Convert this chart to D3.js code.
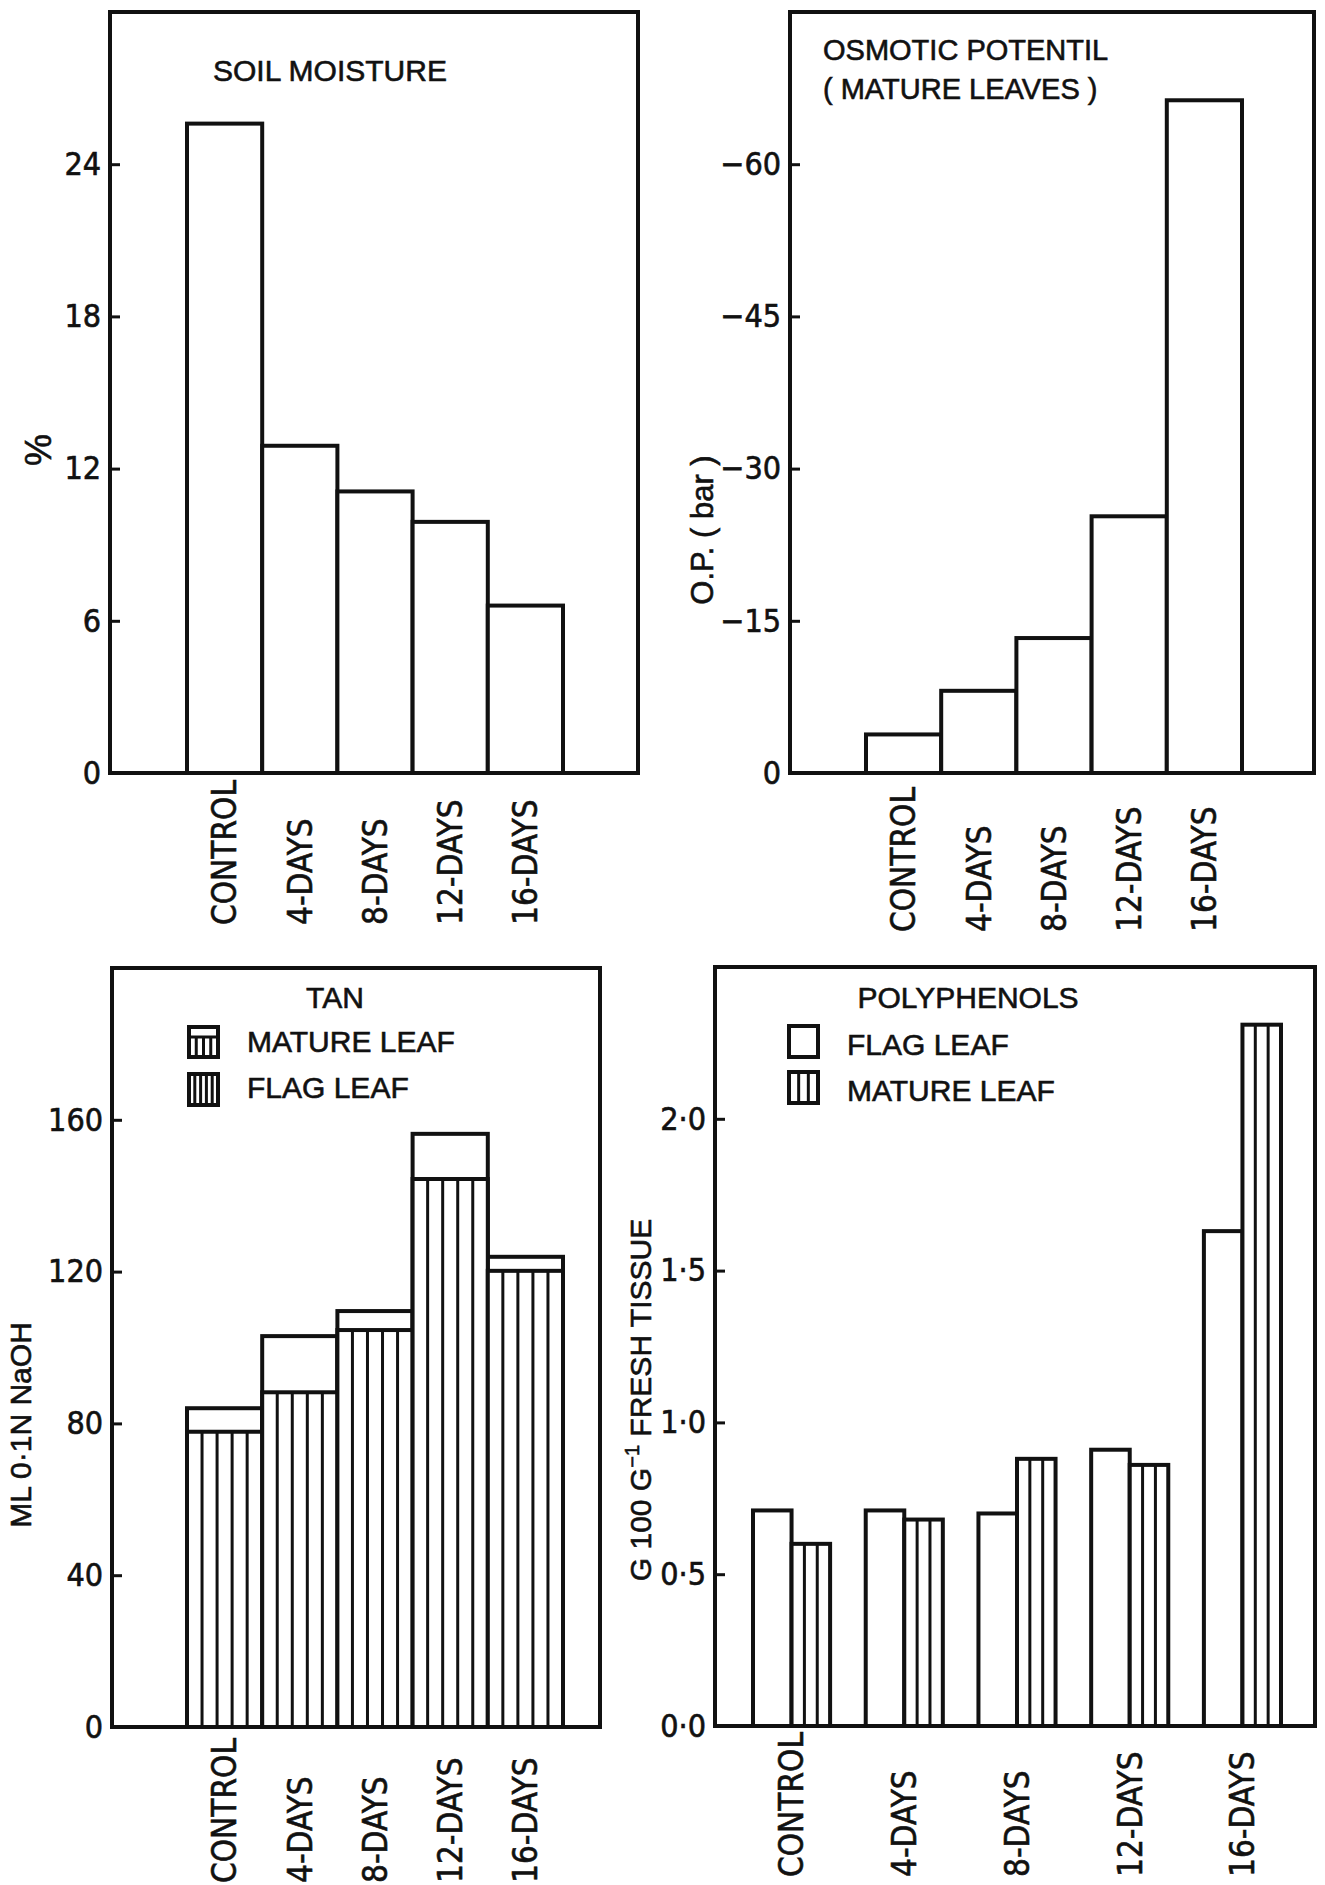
<!DOCTYPE html>
<html><head><meta charset="utf-8">
<script src="https://cdn.jsdelivr.net/npm/d3@7"></script>
<style>
body{margin:0;background:#fff}
svg{display:block;background:#fff}
text{fill:#111;stroke:#111;stroke-width:0.6px}
.narrow{font-family:"Liberation Sans Narrow","DejaVu Sans Condensed","Liberation Sans",sans-serif;font-stretch:condensed}
.reg{font-family:"Liberation Sans","DejaVu Sans",sans-serif}
</style></head><body>
<svg id="c" width="1325" height="1885"></svg>
<script>
// ---------- data ----------
const categories = ["CONTROL", "4-DAYS", "8-DAYS", "12-DAYS", "16-DAYS"];

const soilMoisture = [25.6, 12.9, 11.1, 9.9, 6.6];          // %
const soilTicks = [0, 6, 12, 18, 24];

const osmoticPotential = [-3.8, -8.1, -13.3, -25.3, -66.3]; // bar
const osmoticTicks = [0, -15, -30, -45, -60];

const tanMatureLeaf = [84.0, 103.0, 109.6, 156.3, 123.9];   // ml 0.1N NaOH
const tanFlagLeaf = [77.8, 88.2, 104.6, 144.4, 120.2];
const tanTicks = [0, 40, 80, 120, 160];

const polyFlagLeaf = [0.71, 0.71, 0.70, 0.91, 1.63];         // g/100g fresh tissue
const polyMatureLeaf = [0.60, 0.68, 0.88, 0.86, 2.31];
const polyTicks = [0, 0.5, 1.0, 1.5, 2.0];
const polyTickLabels = ["0·0", "0·5", "1·0", "1·5", "2·0"];

// ---------- drawing ----------
const svg = d3.select("#c");
const INK = "#111";

function frame(f) {
  svg.append("rect").attr("x", f[0]).attr("y", f[1])
    .attr("width", f[2] - f[0]).attr("height", f[3] - f[1])
    .attr("fill", "none").attr("stroke", INK).attr("stroke-width", 4);
}

function yAxis(x0, y, ticks, fmt) {
  const g = svg.append("g").attr("transform", `translate(${x0},0)`)
    .call(d3.axisLeft(y).tickValues(ticks).tickSize(-10).tickPadding(9)
      .tickFormat(fmt));
  g.select(".domain").remove();
  g.selectAll(".tick line").attr("stroke", INK).attr("stroke-width", 3);
  g.selectAll(".tick text").attr("class", "narrow").attr("font-size", 32)
    .attr("fill", INK).attr("font-family", null);
  return g;
}

function xLabels(x, axisY, bottomY) {
  const g = svg.append("g").attr("transform", `translate(0,${axisY})`)
    .call(d3.axisBottom(x).tickSize(0));
  g.select(".domain").remove();
  g.selectAll(".tick text")
    .attr("class", "narrow").attr("font-size", 33).attr("font-family", null)
    .attr("fill", INK)
    .attr("transform", "rotate(-90)")
    .attr("text-anchor", "start")
    .attr("x", -(bottomY - axisY)).attr("y", 0).attr("dy", "0.36em");
  return g;
}

function label(txt, x, y, size, rot, anchor, cls) {
  return svg.append("text").attr("class", cls || "reg")
    .attr("x", x).attr("y", y).attr("font-size", size)
    .attr("text-anchor", anchor || "start")
    .attr("transform", rot ? `rotate(${rot},${x},${y})` : null)
    .text(txt);
}

function stripes(x0, w, yTop, yBot, n) {
  for (let k = 1; k < n; k++) {
    svg.append("line").attr("x1", x0 + w * k / n).attr("x2", x0 + w * k / n)
      .attr("y1", yTop).attr("y2", yBot)
      .attr("stroke", INK).attr("stroke-width", 3);
  }
}

// ===== Panel 1 : soil moisture =====
{
  const f = [110, 12, 638, 773];
  const x = d3.scaleBand().domain(categories).range([187, 563]).padding(0);
  const y = d3.scaleLinear().domain([0, 30]).range([f[3], f[1]]);
  svg.append("g").selectAll("rect").data(categories).join("rect")
    .attr("x", d => x(d)).attr("width", x.bandwidth())
    .attr("y", (d, i) => y(soilMoisture[i]))
    .attr("height", (d, i) => y(0) - y(soilMoisture[i]))
    .attr("fill", "#fff").attr("stroke", INK).attr("stroke-width", 4);
  frame(f);
  yAxis(f[0], y, soilTicks, d3.format("d"));
  xLabels(x, f[3], 925);
  label("SOIL  MOISTURE", 213, 81, 30);
  label("%", 38, 450, 36, -90, "middle").attr("dy", "0.35em");
}

// ===== Panel 2 : osmotic potential =====
{
  const f = [790, 12, 1314, 773];
  const x = d3.scaleBand().domain(categories).range([866, 1242]).padding(0);
  const y = d3.scaleLinear().domain([0, -75]).range([f[3], f[1]]);
  svg.append("g").selectAll("rect").data(categories).join("rect")
    .attr("x", d => x(d)).attr("width", x.bandwidth())
    .attr("y", (d, i) => y(osmoticPotential[i]))
    .attr("height", (d, i) => y(0) - y(osmoticPotential[i]))
    .attr("fill", "#fff").attr("stroke", INK).attr("stroke-width", 4);
  frame(f);
  yAxis(f[0], y, osmoticTicks, d => d === 0 ? "0" : "−" + Math.abs(d));
  xLabels(x, f[3], 932);
  label("OSMOTIC  POTENTIL", 823, 60, 29);
  label("( MATURE LEAVES )", 823, 99, 29);
  label("O.P. ( bar )", 702, 530, 31, -90, "middle").attr("dy", "0.35em");
}

// ===== Panel 3 : TAN =====
{
  const f = [112, 968, 600, 1727];
  const x = d3.scaleBand().domain(categories).range([187, 563]).padding(0);
  const y = d3.scaleLinear().domain([0, 200]).range([f[3], f[1]]);
  const g = svg.append("g");
  categories.forEach((c, i) => {
    g.append("rect").attr("x", x(c)).attr("width", x.bandwidth())
      .attr("y", y(tanMatureLeaf[i])).attr("height", y(0) - y(tanMatureLeaf[i]))
      .attr("fill", "#fff").attr("stroke", INK).attr("stroke-width", 4);
  });
  categories.forEach((c, i) => {
    g.append("rect").attr("x", x(c)).attr("width", x.bandwidth())
      .attr("y", y(tanFlagLeaf[i])).attr("height", y(0) - y(tanFlagLeaf[i]))
      .attr("fill", "#fff").attr("stroke", INK).attr("stroke-width", 4);
    stripes(x(c), x.bandwidth(), y(tanFlagLeaf[i]), y(0), 5);
  });
  frame(f);
  yAxis(f[0], y, tanTicks, d3.format("d"));
  xLabels(x, f[3], 1883);
  label("TAN", 335, 1008, 30, 0, "middle");
  // legend
  svg.append("rect").attr("x", 189).attr("y", 1027).attr("width", 29).attr("height", 30)
    .attr("fill", "#fff").attr("stroke", INK).attr("stroke-width", 4);
  svg.append("line").attr("x1", 189).attr("x2", 218).attr("y1", 1037).attr("y2", 1037)
    .attr("stroke", INK).attr("stroke-width", 3);
  stripes(189, 29, 1037, 1057, 4);
  label("MATURE  LEAF", 247, 1052, 30);
  svg.append("rect").attr("x", 189).attr("y", 1074).attr("width", 29).attr("height", 31)
    .attr("fill", "#fff").attr("stroke", INK).attr("stroke-width", 4);
  stripes(189, 29, 1074, 1105, 5);
  label("FLAG  LEAF", 247, 1098, 30);
  label("ML 0·1N NaOH", 20, 1425, 30, -90, "middle").attr("dy", "0.35em");
}

// ===== Panel 4 : polyphenols =====
{
  const f = [715, 967, 1315, 1726];
  const x = d3.scaleBand().domain(categories).range([753, 1281]).paddingInner(0.316).paddingOuter(0);
  const xs = d3.scaleBand().domain(["flag", "mature"]).range([0, x.bandwidth()]);
  const y = d3.scaleLinear().domain([0, 2.5]).range([f[3], f[1]]);
  const g = svg.append("g");
  categories.forEach((c, i) => {
    g.append("rect").attr("x", x(c) + xs("flag")).attr("width", xs.bandwidth())
      .attr("y", y(polyFlagLeaf[i])).attr("height", y(0) - y(polyFlagLeaf[i]))
      .attr("fill", "#fff").attr("stroke", INK).attr("stroke-width", 4);
    g.append("rect").attr("x", x(c) + xs("mature")).attr("width", xs.bandwidth())
      .attr("y", y(polyMatureLeaf[i])).attr("height", y(0) - y(polyMatureLeaf[i]))
      .attr("fill", "#fff").attr("stroke", INK).attr("stroke-width", 4);
    stripes(x(c) + xs("mature"), xs.bandwidth(), y(polyMatureLeaf[i]), y(0), 3);
  });
  frame(f);
  yAxis(f[0], y, polyTicks, (d, i) => polyTickLabels[i]);
  xLabels(x, f[3], 1877);
  label("POLYPHENOLS", 968, 1008, 30, 0, "middle");
  svg.append("rect").attr("x", 789).attr("y", 1026).attr("width", 29).attr("height", 31)
    .attr("fill", "#fff").attr("stroke", INK).attr("stroke-width", 4);
  label("FLAG  LEAF", 847, 1055, 30);
  svg.append("rect").attr("x", 789).attr("y", 1072).attr("width", 29).attr("height", 31)
    .attr("fill", "#fff").attr("stroke", INK).attr("stroke-width", 4);
  stripes(789, 29, 1072, 1103, 3);
  label("MATURE LEAF", 847, 1101, 30);
  const t = svg.append("text").attr("class", "reg").attr("font-size", 30)
    .attr("text-anchor", "middle").attr("dy", "0.35em")
    .attr("transform", "translate(640,1400) rotate(-90)");
  t.append("tspan").text("G 100 G");
  t.append("tspan").attr("dy", -12).attr("font-size", 20).text("−1");
  t.append("tspan").attr("dy", 12).text(" FRESH TISSUE");
}
</script>
</body></html>
